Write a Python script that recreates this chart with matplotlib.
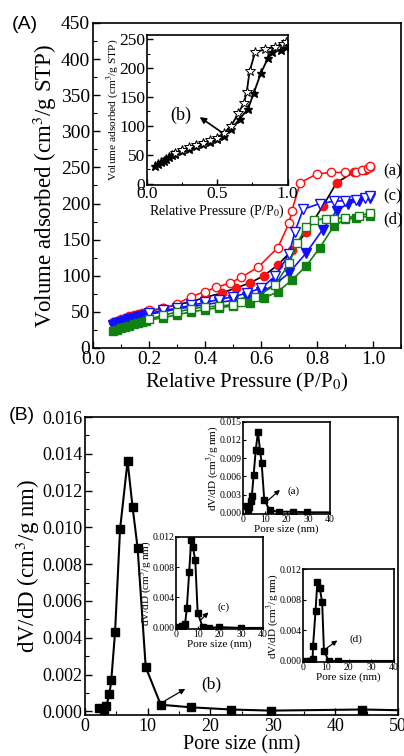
import matplotlib
matplotlib.use("Agg")
import matplotlib.pyplot as plt
from matplotlib.ticker import MultipleLocator

plt.rcParams['font.family'] = ['Liberation Serif', 'DejaVu Serif']
plt.rcParams['mathtext.fontset'] = 'stix'
plt.rcParams['xtick.direction'] = 'in'
plt.rcParams['ytick.direction'] = 'in'
plt.rcParams['axes.linewidth'] = 1.2

# ---- (A) N2 isotherms ----
a_ads_p = [0.07, 0.085, 0.10, 0.115, 0.13, 0.145, 0.16, 0.175, 0.19, 0.25, 0.30, 0.35, 0.40,
           0.46, 0.51, 0.56, 0.61, 0.66, 0.71, 0.76, 0.82, 0.87, 0.93, 0.97, 0.99]
a_ads_v = [36, 38, 40, 42, 44, 45.5, 47, 48.5, 50, 55, 60, 64, 70,
           76, 83, 90, 100, 115, 135, 160, 196, 229, 243, 246, 250]
a_des_p = [0.20, 0.25, 0.30, 0.35, 0.40, 0.44, 0.49, 0.53, 0.59, 0.66, 0.70, 0.71, 0.74,
           0.80, 0.85, 0.90, 0.94, 0.96, 0.98, 0.99]
a_des_v = [52, 55, 61, 71, 78, 84, 90, 98, 112, 139, 173, 190, 229,
           241, 243, 243, 244, 246, 249, 252]

c_ads_p = [0.07, 0.085, 0.10, 0.115, 0.13, 0.145, 0.16, 0.175, 0.19, 0.25, 0.30, 0.35, 0.40,
           0.45, 0.50, 0.55, 0.60, 0.65, 0.70, 0.76, 0.82, 0.87, 0.91, 0.95, 0.99]
c_ads_v = [32, 34, 36, 38, 40, 41.5, 43, 44.5, 46, 50, 54, 57, 60,
           63, 66, 70, 77, 88, 104, 131, 164, 190, 200, 204, 207]
c_des_p = [0.20, 0.25, 0.30, 0.35, 0.40, 0.45, 0.50, 0.55, 0.60, 0.65, 0.70, 0.72, 0.75,
           0.81, 0.86, 0.90, 0.94, 0.97, 0.99]
c_des_v = [48, 52, 55, 59, 63, 67, 71, 76, 83, 99, 130, 160, 192,
           200, 203, 204, 205, 207, 210]

d_ads_p = [0.07, 0.085, 0.10, 0.115, 0.13, 0.145, 0.16, 0.175, 0.19, 0.25, 0.30, 0.35, 0.40,
           0.45, 0.50, 0.56, 0.61, 0.66, 0.71, 0.76, 0.81, 0.86, 0.90, 0.94, 0.99]
d_ads_v = [23, 25, 27, 29, 31, 33, 35, 36.5, 38, 42, 46, 50, 53,
           56, 58, 62, 69, 78, 94, 113, 139, 169, 178, 180, 183]
d_des_p = [0.20, 0.25, 0.30, 0.35, 0.40, 0.45, 0.50, 0.53, 0.58, 0.65, 0.70, 0.73, 0.76,
           0.79, 0.83, 0.86, 0.90, 0.95, 0.99]
d_des_v = [40, 45, 50, 54, 57, 58, 60, 63, 70, 87, 117, 145, 168,
           177, 179, 179, 180, 183, 187]

# inset: sample (b)
b_ads_p = [0.06, 0.08, 0.10, 0.12, 0.14, 0.16, 0.18, 0.20, 0.25, 0.30, 0.35, 0.40, 0.45,
           0.50, 0.55, 0.60, 0.66, 0.72, 0.76, 0.81, 0.86, 0.89, 0.95, 0.99]
b_ads_v = [30, 34, 37, 40, 43, 46, 49, 52, 57, 61, 65, 69, 73,
           77, 83, 95, 112, 130, 157, 191, 217, 228, 231, 236]
b_des_p = [0.20, 0.25, 0.30, 0.35, 0.40, 0.45, 0.50, 0.55, 0.60, 0.65, 0.69, 0.71, 0.73,
           0.77, 0.84, 0.91, 0.97, 0.99]
b_des_v = [54, 58, 63, 67, 71, 75, 80, 88, 100, 122, 140, 159, 194,
           228, 232, 237, 242, 245]

# ---- (B) pore size distributions ----
b_size = [2.3, 3.0, 3.4, 3.9, 4.2, 4.8, 5.6, 6.8, 7.6, 8.4, 9.7, 12.1, 16.9, 23.3, 29.7, 44.3, 52]
b_dvdd = [0.0002, 0.0001, 0.0003, 0.00094, 0.0017, 0.0043, 0.0099, 0.0136, 0.0111, 0.0089,
          0.0024, 0.00036, 0.00022, 0.0001, 0.00004, 0.0001, 0.00005]

a_size = [1.5, 2.2, 2.8, 3.4, 4.0, 4.8, 5.8, 6.8, 7.8, 8.5, 9.7, 12.2, 16.6, 23.0, 29.5, 44]
a_dvdd = [0.0012, 0.0005, 0.0010, 0.0020, 0.0028, 0.0062, 0.0104, 0.0133, 0.0102, 0.0082,
          0.0022, 0.0004, 0.0002, 0.0002, 0.0001, 0.0001]

c_size = [1.6, 2.6, 3.4, 4.2, 5.0, 6.1, 7.0, 7.8, 8.9, 10.0, 12.3, 15.1, 20.0, 30.2, 44]
c_dvdd = [0.0001, 0.0002, 0.0003, 0.0005, 0.0026, 0.0074, 0.0116, 0.0106, 0.0089, 0.0020,
          0.0001, 0.0000, 0.0001, 0.0000, 0.0000]

d_size = [1.4, 2.9, 4.1, 4.3, 5.4, 6.2, 7.2, 8.3, 9.1, 11.2, 15.5, 44]
d_dvdd = [0.0000, 0.0000, 0.0003, 0.0020, 0.0066, 0.0104, 0.0096, 0.0077, 0.0013, 0.0000,
          0.0000, 0.0000]

RED, BLUE, GREEN = '#ff1010', '#1010ff', '#108010'

fig = plt.figure(figsize=(4.04, 7.56), dpi=100)

# ---------- panel A ----------
ax = fig.add_axes([0.230, 0.5397, 0.763, 0.430])
ms = 6
ax.plot(a_ads_p, a_ads_v, '-o', color='black', lw=1.2, ms=ms, mfc=RED, mec=RED)
ax.plot(a_des_p, a_des_v, '-o', color=RED, lw=1.2, ms=ms, mfc='white', mec=RED)
ax.plot(c_ads_p, c_ads_v, '-v', color=BLUE, lw=1.2, ms=ms + 1, mfc=BLUE, mec=BLUE)
ax.plot(c_des_p, c_des_v, '-v', color=BLUE, lw=1.2, ms=ms + 1, mfc='white', mec=BLUE)
ax.plot(d_ads_p, d_ads_v, '-s', color=GREEN, lw=1.2, ms=ms - 0.5, mfc=GREEN, mec=GREEN)
ax.plot(d_des_p, d_des_v, '-s', color=GREEN, lw=1.2, ms=ms - 0.5, mfc='white', mec=GREEN)
ax.set_xlim(0, 1.1)
ax.set_ylim(0, 450)
ax.xaxis.set_major_locator(MultipleLocator(0.2))
ax.xaxis.set_minor_locator(MultipleLocator(0.1))
ax.yaxis.set_major_locator(MultipleLocator(50))
ax.yaxis.set_minor_locator(MultipleLocator(25))
ax.xaxis.set_major_formatter(plt.FuncFormatter(lambda v, p: f'{v:.1f}'))
ax.tick_params(which='major', length=5, width=1, labelsize=14, pad=2)
ax.tick_params(which='minor', length=3, width=0.8)
ax.set_xlabel('Relative Pressure (P/P$_0$)', fontsize=15, labelpad=2)
ax.set_ylabel('Volume adsorbed (cm$^3$/g STP)', fontsize=16.5, labelpad=1)
ax.text(1.035, 245, '(a)', fontsize=12, va='center')
ax.text(1.035, 210, '(c)', fontsize=12, va='center')
ax.text(1.035, 178, '(d)', fontsize=12, va='center')
fig.text(0.062, 0.967, '(A)', fontsize=14, family='Liberation Sans', ha='center', va='center')

# inset (b) isotherm
ins = fig.add_axes([0.363, 0.7553, 0.349, 0.1984])
ins.plot(b_ads_p, b_ads_v, '-*', color='black', lw=1.3, ms=6.5, mfc='black', mec='black')
ins.plot(b_des_p, b_des_v, '-*', color='black', lw=1.3, ms=7, mfc='white', mec='black', mew=0.7)
ins.set_xlim(0, 1.0)
ins.set_ylim(-2, 257)
ins.xaxis.set_major_locator(MultipleLocator(0.5))
ins.xaxis.set_minor_locator(MultipleLocator(0.25))
ins.yaxis.set_major_locator(MultipleLocator(50))
ins.yaxis.set_minor_locator(MultipleLocator(25))
ins.xaxis.set_major_formatter(plt.FuncFormatter(lambda v, p: f'{v:.1f}'))
ins.tick_params(which='major', length=4, width=1, labelsize=12.5, pad=1)
ins.tick_params(which='minor', length=2.5, width=0.8)
ins.set_xlabel('Relative Pressure (P/P$_0$)', fontsize=10, labelpad=0)
ins.set_ylabel('Volume adsorbed (cm$^3$/g STP)', fontsize=8.2, labelpad=-1)
ins.annotate('', xy=(0.36, 118), xytext=(0.55, 86),
             arrowprops=dict(arrowstyle='-|>', color='black', lw=1.2, mutation_scale=9))
ins.text(0.24, 119, '(b)', fontsize=13, ha='center', va='center')

# ---------- panel B ----------
bx = fig.add_axes([0.2104, 0.0542, 0.7748, 0.3942])
bx.plot(b_size, b_dvdd, '-s', color='black', lw=1.5, ms=5.5)
bx.set_xlim(0, 50)
bx.set_ylim(-0.0002, 0.016)
bx.xaxis.set_major_locator(MultipleLocator(10))
bx.xaxis.set_minor_locator(MultipleLocator(5))
bx.yaxis.set_major_locator(MultipleLocator(0.002))
bx.yaxis.set_minor_locator(MultipleLocator(0.001))
bx.yaxis.set_major_formatter(plt.FuncFormatter(lambda v, p: f'{v:.3f}'))
bx.tick_params(which='major', length=5, width=1, labelsize=13, pad=2)
bx.tick_params(which='minor', length=3, width=0.8)
bx.set_xlabel('Pore size (nm)', fontsize=14.5, labelpad=0)
bx.set_ylabel('dV/dD (cm$^3$/g nm)', fontsize=16.5, labelpad=0)
bx.annotate('', xy=(16.4, 0.0013), xytext=(12.4, 0.0005),
            arrowprops=dict(arrowstyle='-|>', color='black', lw=0.9, mutation_scale=8))
bx.text(18.5, 0.00145, '(b)', fontsize=12.5, va='center')
fig.text(0.054, 0.451, '(B)', fontsize=14, family='Liberation Sans', ha='center', va='center')


def small_psd(rect, xs, ys, top, step, tag, txy, tail, head):
    sa = fig.add_axes(rect)
    sa.plot(xs, ys, '-s', color='black', lw=1.4, ms=4)
    sa.set_xlim(0, 40)
    sa.set_ylim(-top * 0.012, top)
    sa.xaxis.set_major_locator(MultipleLocator(10))
    sa.yaxis.set_major_locator(MultipleLocator(step))
    sa.yaxis.set_major_formatter(plt.FuncFormatter(lambda v, p: f'{v:.3f}'))
    sa.tick_params(which='major', length=2.5, width=0.8, labelsize=7, pad=1)
    sa.set_xlabel('Pore size (nm)', fontsize=8, labelpad=0)
    sa.set_ylabel('dV/dD (cm$^3$/g nm)', fontsize=8, labelpad=-1)
    sa.annotate('', xy=head, xytext=tail,
                arrowprops=dict(arrowstyle='-|>', color='black', lw=0.9, mutation_scale=7))
    sa.text(txy[0], txy[1], tag, fontsize=8, va='center')
    return sa


small_psd([0.602, 0.3201, 0.2146, 0.1221], a_size, a_dvdd, 0.015, 0.003, '(a)',
          (20.6, 0.0035), (10, 0.0016), (17.9, 0.0041))
small_psd([0.4356, 0.168, 0.2146, 0.1221], c_size, c_dvdd, 0.012, 0.004, '(c)',
          (19, 0.00275), (10.3, 0.00075), (15.9, 0.0023))
small_psd([0.7508, 0.1243, 0.2245, 0.1226], d_size, d_dvdd, 0.012, 0.004, '(d)',
          (20.4, 0.0028), (9.5, 0.0015), (16, 0.0029))

fig.savefig('out.png', dpi=100)
